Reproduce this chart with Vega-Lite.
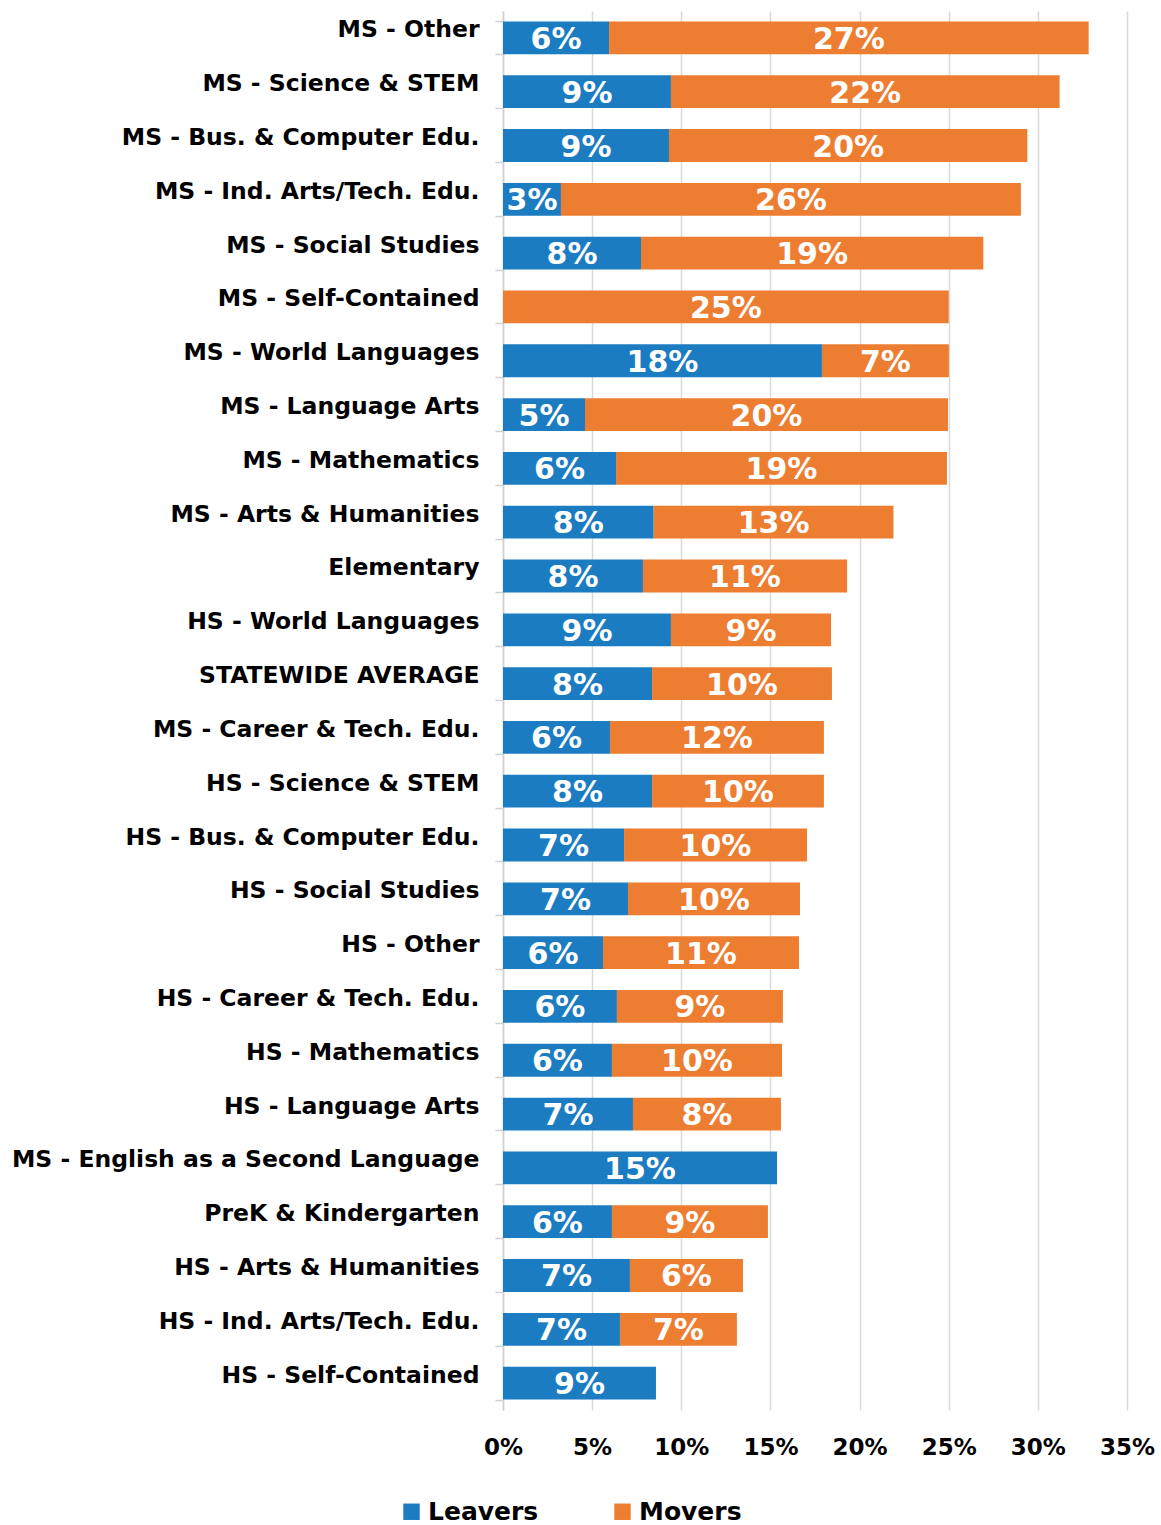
{
  "$schema": "https://vega.github.io/schema/vega-lite/v6.json",
  "autosize": {"type": "none"},
  "padding": {"left": 503, "top": 11, "right": 34, "bottom": 115},
  "width": 624,
  "height": 1399,
  "background": "white",
  "config": {
    "view": {"stroke": null},
    "font": "DejaVu Sans"
  },
  "data": {
    "values": [
      {"category": "MS - Other", "group": "Leavers", "value": 0.0595},
      {"category": "MS - Other", "group": "Movers", "value": 0.269},
      {"category": "MS - Science & STEM", "group": "Leavers", "value": 0.0942},
      {"category": "MS - Science & STEM", "group": "Movers", "value": 0.218},
      {"category": "MS - Bus. & Computer Edu.", "group": "Leavers", "value": 0.0931},
      {"category": "MS - Bus. & Computer Edu.", "group": "Movers", "value": 0.201},
      {"category": "MS - Ind. Arts/Tech. Edu.", "group": "Leavers", "value": 0.0325},
      {"category": "MS - Ind. Arts/Tech. Edu.", "group": "Movers", "value": 0.258},
      {"category": "MS - Social Studies", "group": "Leavers", "value": 0.0774},
      {"category": "MS - Social Studies", "group": "Movers", "value": 0.192},
      {"category": "MS - Self-Contained", "group": "Movers", "value": 0.250},
      {"category": "MS - World Languages", "group": "Leavers", "value": 0.1789},
      {"category": "MS - World Languages", "group": "Movers", "value": 0.0712},
      {"category": "MS - Language Arts", "group": "Leavers", "value": 0.046},
      {"category": "MS - Language Arts", "group": "Movers", "value": 0.2036},
      {"category": "MS - Mathematics", "group": "Leavers", "value": 0.0634},
      {"category": "MS - Mathematics", "group": "Movers", "value": 0.1856},
      {"category": "MS - Arts & Humanities", "group": "Leavers", "value": 0.0845},
      {"category": "MS - Arts & Humanities", "group": "Movers", "value": 0.1345},
      {"category": "Elementary", "group": "Leavers", "value": 0.0785},
      {"category": "Elementary", "group": "Movers", "value": 0.1145},
      {"category": "HS - World Languages", "group": "Leavers", "value": 0.0942},
      {"category": "HS - World Languages", "group": "Movers", "value": 0.0898},
      {"category": "STATEWIDE AVERAGE", "group": "Leavers", "value": 0.0836},
      {"category": "STATEWIDE AVERAGE", "group": "Movers", "value": 0.1009},
      {"category": "MS - Career & Tech. Edu.", "group": "Leavers", "value": 0.060},
      {"category": "MS - Career & Tech. Edu.", "group": "Movers", "value": 0.120},
      {"category": "HS - Science & STEM", "group": "Leavers", "value": 0.0836},
      {"category": "HS - Science & STEM", "group": "Movers", "value": 0.0964},
      {"category": "HS - Bus. & Computer Edu.", "group": "Leavers", "value": 0.0679},
      {"category": "HS - Bus. & Computer Edu.", "group": "Movers", "value": 0.1026},
      {"category": "HS - Social Studies", "group": "Leavers", "value": 0.0701},
      {"category": "HS - Social Studies", "group": "Movers", "value": 0.0965},
      {"category": "HS - Other", "group": "Leavers", "value": 0.0561},
      {"category": "HS - Other", "group": "Movers", "value": 0.1099},
      {"category": "HS - Career & Tech. Edu.", "group": "Leavers", "value": 0.0639},
      {"category": "HS - Career & Tech. Edu.", "group": "Movers", "value": 0.0931},
      {"category": "HS - Mathematics", "group": "Leavers", "value": 0.0611},
      {"category": "HS - Mathematics", "group": "Movers", "value": 0.0954},
      {"category": "HS - Language Arts", "group": "Leavers", "value": 0.0729},
      {"category": "HS - Language Arts", "group": "Movers", "value": 0.083},
      {"category": "MS - English as a Second Language", "group": "Leavers", "value": 0.1537},
      {"category": "PreK & Kindergarten", "group": "Leavers", "value": 0.0611},
      {"category": "PreK & Kindergarten", "group": "Movers", "value": 0.0875},
      {"category": "HS - Arts & Humanities", "group": "Leavers", "value": 0.0712},
      {"category": "HS - Arts & Humanities", "group": "Movers", "value": 0.0634},
      {"category": "HS - Ind. Arts/Tech. Edu.", "group": "Leavers", "value": 0.0656},
      {"category": "HS - Ind. Arts/Tech. Edu.", "group": "Movers", "value": 0.0656},
      {"category": "HS - Self-Contained", "group": "Leavers", "value": 0.0858}
    ]
  },
  "encoding": {
    "y": {
      "field": "category",
      "type": "nominal",
      "sort": null,
      "scale": {"paddingInner": 0.39, "paddingOuter": 0.195},
      "axis": {
        "title": null,
        "tickBand": "extent",
        "domainColor": "#d0d0d0",
        "domainWidth": 1.5,
        "tickColor": "#d0d0d0",
        "tickWidth": 1.5,
        "tickSize": 8,
        "labelFont": "DejaVu Sans",
        "labelFontWeight": "bold",
        "labelFontSize": 23.5,
        "labelColor": "#000000",
        "labelPadding": 16,
        "labelBaseline": "alphabetic",
        "labelOffset": -1,
        "labelLimit": 600,
        "grid": false
      }
    },
    "x": {
      "field": "value",
      "type": "quantitative",
      "stack": "zero",
      "scale": {"domain": [0, 0.35], "nice": false},
      "axis": {
        "title": null,
        "format": ".0%",
        "values": [0, 0.05, 0.1, 0.15, 0.2, 0.25, 0.3, 0.35],
        "domain": false,
        "ticks": false,
        "grid": true,
        "gridColor": "#d9d9d9",
        "gridWidth": 1.5,
        "labelFlush": false,
        "labelOverlap": false,
        "labelFont": "DejaVu Sans",
        "labelFontWeight": "bold",
        "labelFontSize": 23,
        "labelColor": "#000000",
        "labelPadding": 26
      }
    },
    "order": {"field": "group", "type": "nominal", "sort": "ascending"}
  },
  "layer": [
    {
      "mark": {"type": "bar"},
      "encoding": {
        "color": {
          "field": "group",
          "type": "nominal",
          "scale": {"domain": ["Leavers", "Movers"], "range": ["#1b7cc1", "#ed7d31"]},
          "legend": {
            "title": null,
            "orient": "none",
            "direction": "horizontal",
            "legendX": -104,
            "legendY": 1488,
            "symbolType": "square",
            "symbolSize": 270,
            "symbolStrokeWidth": 0,
            "labelFont": "DejaVu Sans",
            "labelFontWeight": "bold",
            "labelFontSize": 25,
            "labelColor": "#000000",
            "labelOffset": 4,
            "columnPadding": 71
          }
        }
      }
    },
    {
      "mark": {"type": "text", "color": "white", "font": "DejaVu Sans", "fontWeight": "bold", "fontSize": 30, "baseline": "middle", "dy": 2},
      "encoding": {
        "x": {"field": "value", "type": "quantitative", "stack": "zero", "bandPosition": 0.5},
        "text": {"field": "value", "type": "quantitative", "format": ".0%"},
        "detail": {"field": "group"}
      }
    }
  ]
}
